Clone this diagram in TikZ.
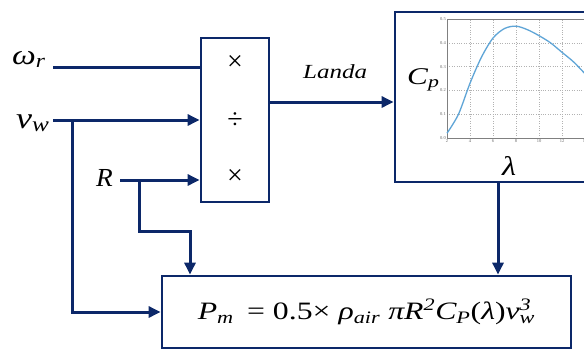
\documentclass[tikz,border=0pt]{standalone}
\usepackage{graphicx}
\usepackage{fontspec}
\setmainfont{Liberation Serif}
\usetikzlibrary{arrows.meta}
\definecolor{navy}{RGB}{12,40,105}
\definecolor{curveblue}{RGB}{95,165,215}
\newcommand\widetxt[2][1.42]{\scalebox{#1}[1]{#2}}
\tikzset{
 wire/.style={draw=navy, line width=3pt},
 arr/.style={wire, -{Triangle[length=12pt,width=11pt]}},
 blk/.style={draw=navy, line width=2.8pt, fill=white, inner sep=0pt},
 lbl/.style={font=\fontsize{26}{26}\selectfont\itshape, inner sep=0pt},
 oplbl/.style={font=\fontsize{28}{28}\selectfont, inner sep=0pt},
 ticklbl/.style={font=\fontsize{4.5}{5}\selectfont, text=gray!80!black, inner sep=1pt},
 gridln/.style={gray!60, dotted, line width=0.4pt},
}
\begin{document}
\begin{tikzpicture}[x=1pt,y=-1pt]
\useasboundingbox (0,0) rectangle (584,349);
\clip (0,0) rectangle (584,349);
% blocks
\node[blk, minimum width=68pt, minimum height=164pt] (mult) at (235,120) {};
\node[blk, minimum width=225pt, minimum height=170pt] (cp) at (507.5,97) {};
\node[blk, minimum width=409pt, minimum height=72pt, font=\fontsize{25}{25}\selectfont] (pm) at (366.5,312)
 {\widetxt[1.27]{{\itshape P\textsubscript{m}}\, = 0.5× {\itshape ρ\textsubscript{air} πR\textsuperscript{2}C\textsubscript{P}}({\itshape λ}){\itshape v\rlap{\textsuperscript{3}}\textsubscript{w}}}};
% operators
\node[oplbl] (o1) at (235,63) {×};
\node[oplbl] (o2) at (235,121) {÷};
\node[oplbl] (o3) at (235,177) {×};
% input labels
\node[lbl, font=\fontsize{28}{28}\selectfont\itshape, anchor=base west] (wlab) at (12,64) {\widetxt[1.2]{ω\textsubscript{r}}};
\node[lbl, font=\fontsize{30}{30}\selectfont\itshape, anchor=base west] (vlab) at (16,128) {\widetxt[1.2]{v\textsubscript{w}}};
\node[lbl, anchor=base west] (rlab) at (96,186) {\widetxt[1.05]{R}};
% wires
\coordinate (wr) at (53,67);
\draw[wire] (wr) -- (wr -| mult.west);
\coordinate (vw) at (53,120);
\draw[arr] (vw) -- (vw -| mult.west);
\coordinate (rr) at (120,180);
\draw[arr] (rr) -- (rr -| mult.west);
\coordinate (lo) at (mult.east |- 0,102);
\draw[arr] (lo) -- (lo -| cp.west);
\node[lbl, font=\fontsize{20}{20}\selectfont\itshape, anchor=base west] (landa) at (303,78) {\widetxt[1.25]{Landa}};
\coordinate (vb) at (72,120);
\draw[arr] (vb) |- (pm.west);
\coordinate (rb) at (139,180);
\coordinate (rk) at (190,231);
\draw[arr] (rb) |- (rk) -- (rk |- pm.north);
\coordinate (cb) at (498,0);
\draw[arr] (cb |- cp.south) -- (cb |- pm.north);
% plot inside Cp block
\begin{scope}[shift={(424,138)}, x=11.5pt, y=238pt]
 \foreach \i in {4,6,...,12} \draw[gridln] (\i,0) -- (\i,0.5);
 \foreach \j in {0.1,0.2,0.3,0.4} \draw[gridln] (2,\j) -- (14,\j);
 \draw[gray, line width=0.6pt] (2,0) rectangle (14,0.5);
 \foreach \i in {2,4,...,14} \node[ticklbl, below] at (\i,0) {\i};
 \foreach \j in {0.0,0.1,0.2,0.3,0.4,0.5} \node[ticklbl, left] at (2,\j) {\j};
 \draw[curveblue, line width=1.3pt] plot[smooth] coordinates {(2,0.02) (3,0.1) (4,0.23) (5,0.34) (6,0.42) (7,0.46) (8,0.47) (9,0.455) (10,0.43) (11,0.40) (12,0.36) (13,0.32) (14,0.27)};
\end{scope}
\node[lbl, font=\fontsize{24}{24}\selectfont\itshape, anchor=base west] (cplab) at (407,84) {\widetxt[1.3]{C\textsubscript{p}}};
\node[lbl, font=\fontsize{27}{27}\selectfont\itshape, anchor=base west] (lamlab) at (502,175) {\widetxt[1.2]{λ}};
\end{tikzpicture}
\end{document}
